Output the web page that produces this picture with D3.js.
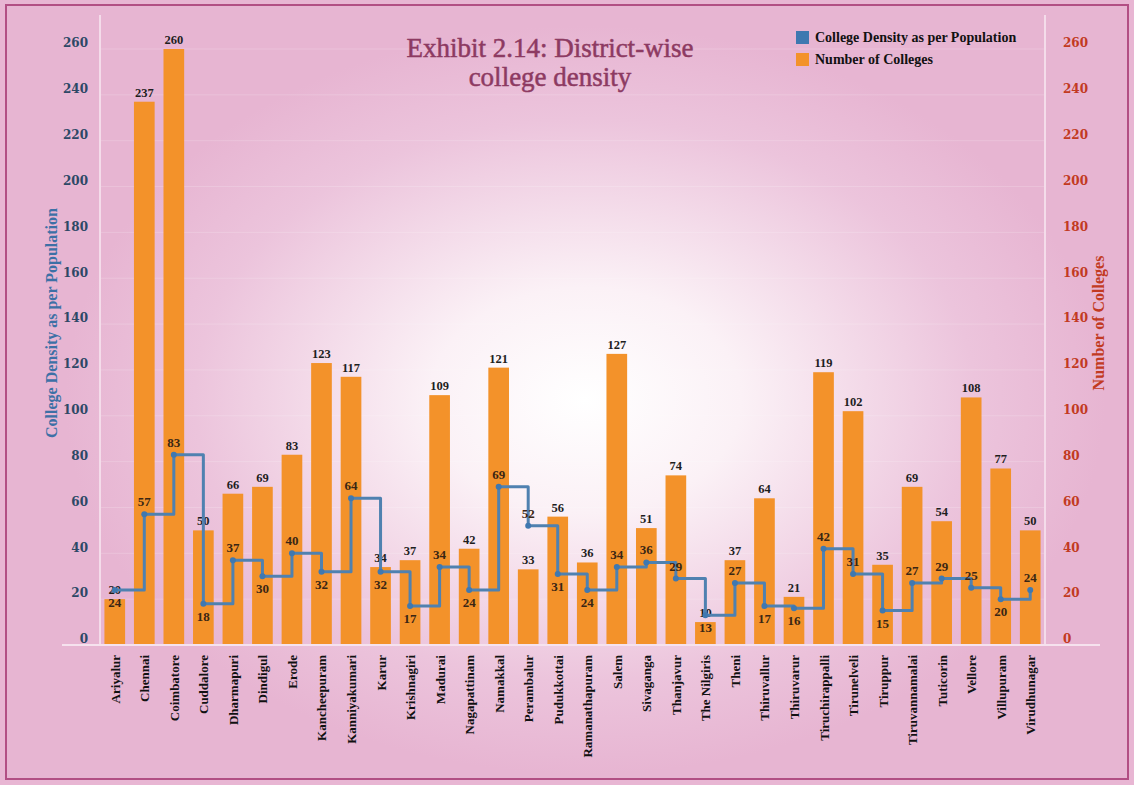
<html>
<head>
    <script src="https://d3js.org/d3.v7.min.js"></script>
    <title>District-wise college density</title>
    <style>
        body { margin: 0; background: #e8b6d3; }
    </style>
</head>
<body>
<svg id="chart"></svg>
<script>
    var districts = ["Ariyalur", "Chennai", "Coimbatore", "Cuddalore", "Dharmapuri", "Dindigul", "Erode",
        "Kancheepuram", "Kanniyakumari", "Karur", "Krishnagiri", "Madurai", "Nagapattinam", "Namakkal",
        "Perambalur", "Pudukkottai", "Ramanathapuram", "Salem", "Sivaganga", "Thanjavur", "The Nilgiris",
        "Theni", "Thiruvallur", "Thiruvarur", "Tiruchirappalli", "Tirunelveli", "Tiruppur", "Tiruvannamalai",
        "Tuticorin", "Vellore", "Villupuram", "Virudhunagar"];

    var colleges = [20, 237, 260, 50, 66, 69, 83, 123, 117, 34, 37, 109, 42, 121, 33, 56, 36, 127, 51, 74, 10,
        37, 64, 21, 119, 102, 35, 69, 54, 108, 77, 50];

    var density = [24, 57, 83, 18, 37, 30, 40, 32, 64, 32, 17, 34, 24, 69, 52, 31, 24, 34, 36, 29, 13,
        27, 17, 16, 42, 31, 15, 27, 29, 25, 20, 24];

    // where the density label sits: a = above the point, b = below
    var densityLabelSide = ["b", "a", "a", "b", "a", "b", "a", "b", "a", "b", "b", "a", "b", "a", "a", "b",
        "b", "a", "a", "a", "b", "a", "b", "b", "a", "a", "b", "a", "a", "a", "b", "a"];

    var yTicks = [0, 20, 40, 60, 80, 100, 120, 140, 160, 180, 200, 220, 240, 260];

    var W = 1134, H = 785;
    var svg = d3.select("#chart").attr("width", W).attr("height", H);

    // background
    var defs = svg.append("defs");
    var grad = defs.append("radialGradient")
        .attr("id", "bg")
        .attr("gradientUnits", "userSpaceOnUse")
        .attr("cx", 585).attr("cy", 400).attr("r", 520)
        .attr("gradientTransform", "translate(585,400) scale(1,0.72) translate(-585,-400)");
    grad.append("stop").attr("offset", "0").attr("stop-color", "#ffffff");
    grad.append("stop").attr("offset", "0.3").attr("stop-color", "#fbf1f6");
    grad.append("stop").attr("offset", "0.75").attr("stop-color", "#ecc4dc");
    grad.append("stop").attr("offset", "1").attr("stop-color", "#e7b5d2");

    svg.append("rect").attr("width", W).attr("height", H).attr("fill", "#e8b6d3");
    svg.append("rect")
        .attr("x", 6).attr("y", 5).attr("width", 1122).attr("height", 774)
        .attr("fill", "url(#bg)")
        .attr("stroke", "#b24f84").attr("stroke-width", 2);

    var x = d3.scaleBand().domain(districts).range([100, 1045]).paddingInner(0.3).paddingOuter(0.15);
    var y = d3.scaleLinear().domain([0, 260]).range([645, 49]);

    // faint gridlines
    svg.append("g").selectAll("line")
        .data(yTicks.slice(1))
        .enter().append("line")
        .attr("x1", 100).attr("x2", 1045)
        .attr("y1", function (d) {return y(d);})
        .attr("y2", function (d) {return y(d);})
        .attr("stroke", "#ffffff").attr("stroke-opacity", 0.18).attr("stroke-width", 1);

    // axis frame lines
    svg.append("line").attr("x1", 100).attr("x2", 100).attr("y1", 15).attr("y2", 645)
        .attr("stroke", "#f4dcea").attr("stroke-width", 2);
    svg.append("line").attr("x1", 1045).attr("x2", 1045).attr("y1", 15).attr("y2", 645)
        .attr("stroke", "#f4dcea").attr("stroke-width", 2);

    // bars
    svg.append("g").selectAll("rect")
        .data(colleges)
        .enter().append("rect")
        .attr("x", function (d, i) {return x(districts[i]);})
        .attr("width", x.bandwidth())
        .attr("y", function (d) {return y(d);})
        .attr("height", function (d) {return y(0) - y(d);})
        .attr("fill", "#f3922a");

    svg.append("line").attr("x1", 62).attr("x2", 1100).attr("y1", 645).attr("y2", 645)
        .attr("stroke", "#f6e2ee").attr("stroke-width", 2);

    // bar labels
    svg.append("g").selectAll("text")
        .data(colleges)
        .enter().append("text")
        .attr("x", function (d, i) {return x(districts[i]) + x.bandwidth() / 2;})
        .attr("y", function (d) {return y(d) - 5;})
        .attr("text-anchor", "middle")
        .attr("font-family", "Liberation Serif")
        .attr("font-weight", "bold")
        .attr("font-size", 12.5)
        .attr("fill", "#1e1e1e")
        .text(function (d) {return d;});

    // density step line
    var pts = density.map(function (d, i) {return [x(districts[i]) + x.bandwidth() / 2, y(d)];});
    var line = d3.line().curve(d3.curveStepAfter);

    svg.append("path").datum(pts)
        .attr("fill", "none")
        .attr("stroke", "#4f81b0")
        .attr("stroke-width", 3)
        .attr("stroke-linejoin", "round")
        .attr("d", line);

    svg.append("g").selectAll("circle")
        .data(pts)
        .enter().append("circle")
        .attr("cx", function (d) {return d[0];})
        .attr("cy", function (d) {return d[1];})
        .attr("r", 3)
        .attr("fill", "#3f78b0");

    svg.append("g").selectAll("text")
        .data(pts)
        .enter().append("text")
        .attr("x", function (d) {return d[0];})
        .attr("y", function (d, i) {return densityLabelSide[i] === "a" ? d[1] - 8 : d[1] + 17;})
        .attr("text-anchor", "middle")
        .attr("font-family", "Liberation Serif")
        .attr("font-weight", "bold")
        .attr("font-size", 13)
        .attr("fill", "#3a2614")
        .text(function (d, i) {return density[i];});

    // axes
    var leftAxis = d3.axisLeft(y).tickValues(yTicks).tickSize(0).tickPadding(12);
    var gl = svg.append("g").attr("transform", "translate(100,-6)").call(leftAxis);
    gl.select(".domain").remove();
    gl.selectAll("text")
        .attr("font-family", "DejaVu Serif")
        .attr("font-weight", "bold")
        .attr("font-size", 12)
        .attr("fill", "#2d4866");

    var rightAxis = d3.axisRight(y).tickValues(yTicks).tickSize(0).tickPadding(18);
    var gr = svg.append("g").attr("transform", "translate(1045,-6)").call(rightAxis);
    gr.select(".domain").remove();
    gr.selectAll("text")
        .attr("font-family", "DejaVu Serif")
        .attr("font-weight", "bold")
        .attr("font-size", 12)
        .attr("fill", "#c23a22");

    // x labels
    svg.append("g").selectAll("text")
        .data(districts)
        .enter().append("text")
        .attr("transform", function (d) {
            return "translate(" + (x(d) + x.bandwidth() / 2 + 5) + ",655) rotate(-90)";
        })
        .attr("text-anchor", "end")
        .attr("font-family", "Liberation Serif")
        .attr("font-weight", "bold")
        .attr("font-size", 13)
        .attr("fill", "#111")
        .text(function (d) {return d;});

    // axis titles
    svg.append("text")
        .attr("transform", "translate(57,323) rotate(-90)")
        .attr("text-anchor", "middle")
        .attr("font-family", "Liberation Serif")
        .attr("font-weight", "bold")
        .attr("font-size", 16)
        .attr("fill", "#3d70a6")
        .text("College Density as per Population");

    svg.append("text")
        .attr("transform", "translate(1104,323) rotate(-90)")
        .attr("text-anchor", "middle")
        .attr("font-family", "Liberation Serif")
        .attr("font-weight", "bold")
        .attr("font-size", 16)
        .attr("fill", "#c23a22")
        .text("Number of Colleges");

    // title
    var title = svg.append("text")
        .attr("text-anchor", "middle")
        .attr("font-family", "Liberation Serif")
        .attr("font-size", 27)
        .attr("fill", "#8d3a62")
        .attr("stroke", "#8d3a62").attr("stroke-width", 0.5);
    title.append("tspan").attr("x", 550).attr("y", 57).text("Exhibit 2.14: District-wise");
    title.append("tspan").attr("x", 550).attr("y", 86).text("college density");

    // legend
    var legend = [
        {name: "College Density as per Population", color: "#3f78b0"},
        {name: "Number of Colleges", color: "#f3922a"}
    ];
    var lg = svg.append("g").selectAll("g")
        .data(legend)
        .enter().append("g")
        .attr("transform", function (d, i) {return "translate(796," + (31 + i * 22) + ")";});
    lg.append("rect").attr("width", 13).attr("height", 13).attr("fill", function (d) {return d.color;});
    lg.append("text")
        .attr("x", 19).attr("y", 11)
        .attr("font-family", "Liberation Serif")
        .attr("font-weight", "bold")
        .attr("font-size", 14)
        .attr("fill", "#111")
        .text(function (d) {return d.name;});
</script>
</body>
</html>
